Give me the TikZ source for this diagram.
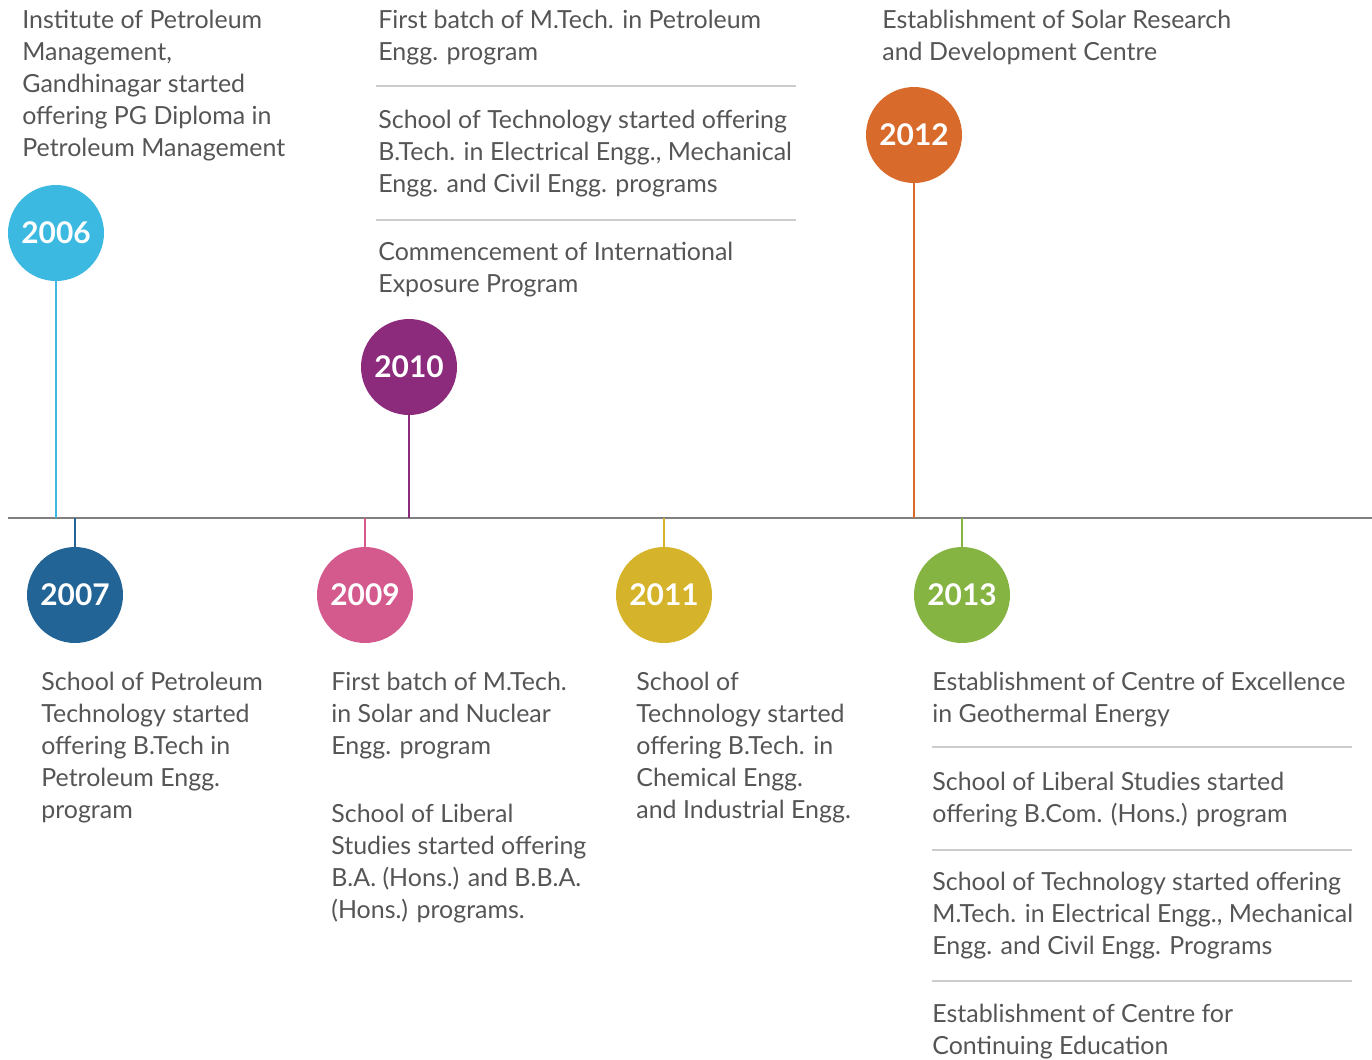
\documentclass[tikz,border=0pt]{standalone}
\usepackage{fontspec}
\setmainfont{Lato}
\usetikzlibrary{positioning}
\definecolor{skyblue}{HTML}{3BB9E0}
\definecolor{deepblue}{HTML}{236496}
\definecolor{rosepink}{HTML}{D45A8D}
\definecolor{plum}{HTML}{8C2A7C}
\definecolor{mustard}{HTML}{D5B42B}
\definecolor{rust}{HTML}{D86B2B}
\definecolor{leaf}{HTML}{85B442}
\definecolor{textgrey}{HTML}{555555}
\definecolor{axisgrey}{HTML}{808080}
\definecolor{sepgrey}{HTML}{CCCCCC}

\begin{document}
\begin{tikzpicture}[
    x=0.02cm, y=-0.02cm,
    year/.style={
        circle,
        inner sep=0pt,
        minimum size=1.92cm,
        text=white,
        font=\fontsize{17}{18}\selectfont\bfseries
    },
    stem/.style={
        line width=1pt
    },
    milestone/.style={
        anchor=north west,
        align=left,
        inner sep=0pt,
        text=textgrey,
        font=\fontsize{14.2}{18.14}\selectfont,
        execute at begin node=\strut
    },
    separator/.style={
        draw=sepgrey,
        line width=0.8pt
    }
]
\useasboundingbox (0,0) rectangle (1372,1059);

% =====================
% ASSE
% =====================
\coordinate (axisL) at (8,518);
\coordinate (axisR) at (1372,518);
\draw[axisgrey, line width=1pt] (axisL) -- (axisR);

% =====================
% ANNI
% =====================
\node[year, fill=skyblue]  at (56,233)  (y2006) {2006};
\node[year, fill=deepblue] at (75,595)  (y2007) {2007};
\node[year, fill=rosepink] at (365,595) (y2009) {2009};
\node[year, fill=plum]     at (409,367) (y2010) {2010};
\node[year, fill=mustard]  at (664,595) (y2011) {2011};
\node[year, fill=rust]     at (914,135) (y2012) {2012};
\node[year, fill=leaf]     at (962,595) (y2013) {2013};

% stems above the axis
\draw[stem, skyblue] (y2006.south) -- (y2006.south |- axisL);
\draw[stem, plum]    (y2010.south) -- (y2010.south |- axisL);
\draw[stem, rust]    (y2012.south) -- (y2012.south |- axisL);

% stems below the axis
\draw[stem, deepblue] (y2007.north) -- (y2007.north |- axisL);
\draw[stem, rosepink] (y2009.north) -- (y2009.north |- axisL);
\draw[stem, mustard]  (y2011.north) -- (y2011.north |- axisL);
\draw[stem, leaf]     (y2013.north) -- (y2013.north |- axisL);

% =====================
% TESTI SOPRA
% =====================
% (y of each text = baseline of its first line minus the strut height)
\node[milestone] at (22,10) (t2006) {Institute of Petroleum\\Management,\\Gandhinagar started\\offering PG Diploma in\\Petroleum Management};

\node[milestone] at (378,10) (t2010a) {First batch of M.Tech. in Petroleum\\Engg. program};
\draw[separator] (376,86) -- (796,86);
\node[milestone] at (378,110) (t2010b) {School of Technology started offering\\B.Tech. in Electrical Engg., Mechanical\\Engg. and Civil Engg. programs};
\draw[separator] (376,220) -- (796,220);
\node[milestone] at (378,242) (t2010c) {Commencement of International\\Exposure Program};

\node[milestone] at (882,10) (t2012) {Establishment of Solar Research\\and Development Centre};

% =====================
% TESTI SOTTO
% =====================
\node[milestone] at (41,672) (t2007) {School of Petroleum\\Technology started\\offering B.Tech in\\Petroleum Engg.\\program};

\node[milestone] at (331,672) (t2009a) {First batch of M.Tech.\\in Solar and Nuclear\\Engg. program};
\node[milestone] at (331,804) (t2009b) {School of Liberal\\Studies started offering\\B.A. (Hons.) and B.B.A.\\(Hons.) programs.};

\node[milestone] at (636,672) (t2011) {School of\\Technology started\\offering B.Tech. in\\Chemical Engg.\\and Industrial Engg.};

\node[milestone] at (932,672) (t2013a) {Establishment of Centre of Excellence\\in Geothermal Energy};
\draw[separator] (932,747) -- (1352,747);
\node[milestone] at (932,772) (t2013b) {School of Liberal Studies started\\offering B.Com. (Hons.) program};
\draw[separator] (932,850) -- (1352,850);
\node[milestone] at (932,872) (t2013c) {School of Technology started offering\\M.Tech. in Electrical Engg., Mechanical\\Engg. and Civil Engg. Programs};
\draw[separator] (932,981) -- (1352,981);
\node[milestone] at (932,1004) (t2013d) {Establishment of Centre for\\Continuing Education};

\end{tikzpicture}
\end{document}
